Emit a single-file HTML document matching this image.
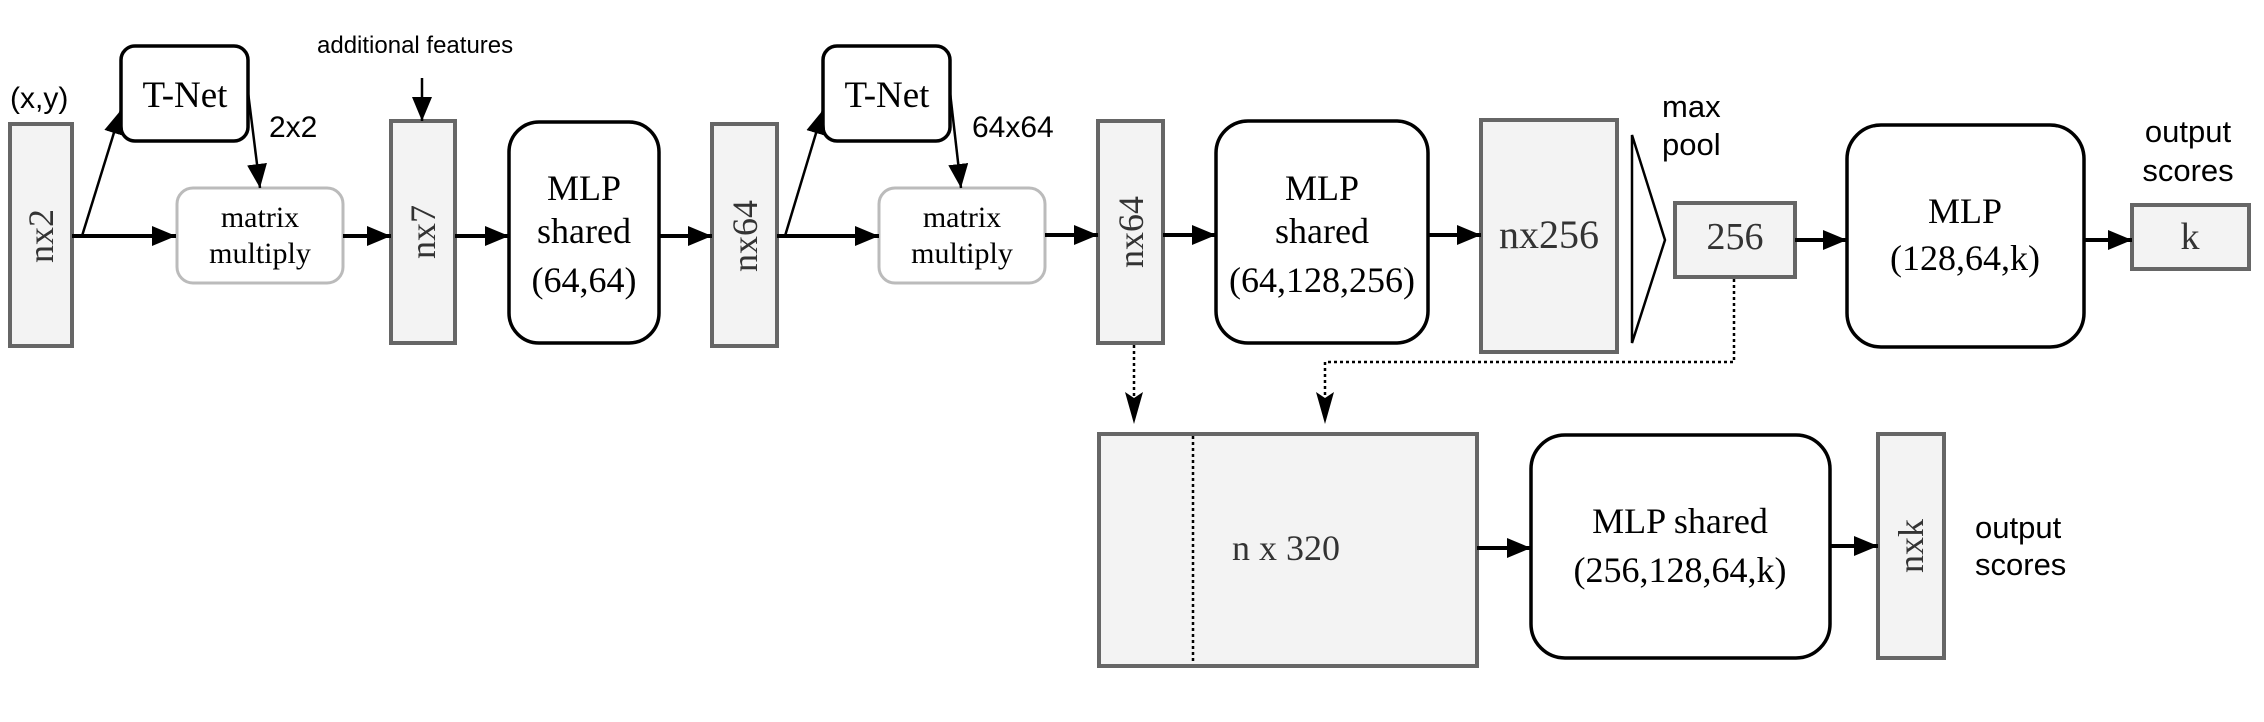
<!DOCTYPE html>
<html><head><meta charset="utf-8"><style>
html,body{margin:0;padding:0;background:#fff;}
svg{display:block;}
.s{font-family:"Liberation Serif",serif;fill:#000;}
.a{font-family:"Liberation Sans",sans-serif;fill:#000;}
.g{fill:#f3f3f3;stroke:#666;stroke-width:4;}
.r{fill:#fff;stroke:#000;stroke-width:3.5;}
.m{fill:#fff;stroke:#bbb;stroke-width:3;}
.l{stroke:#000;stroke-width:4;fill:none;}
.t{stroke:#000;stroke-width:2.5;fill:none;}
.d{stroke:#000;stroke-width:2.5;fill:none;stroke-dasharray:3,3;}
</style></head><body>
<svg width="2264" height="722" viewBox="0 0 2264 722" xmlns="http://www.w3.org/2000/svg">
<defs>
<marker id="ah2" markerWidth="24" markerHeight="20" refX="24" refY="10" orient="auto" markerUnits="userSpaceOnUse">
<path d="M0,0 L24,10 L0,20 z" fill="#000"/></marker>
</defs>

<!-- labels top -->
<text class="a" x="10" y="108" font-size="30">(x,y)</text>
<text class="a" x="317" y="53" font-size="24">additional features</text>
<text class="a" x="269" y="137" font-size="30">2x2</text>
<text class="a" x="972" y="137" font-size="30">64x64</text>
<text class="a" x="1662" y="117" font-size="31">max</text>
<text class="a" x="1662" y="155" font-size="31">pool</text>
<text class="a" x="2188" y="142" font-size="31" text-anchor="middle">output</text>
<text class="a" x="2188" y="181" font-size="31" text-anchor="middle">scores</text>
<text class="a" x="1975" y="538" font-size="31">output</text>
<text class="a" x="1975" y="575" font-size="31">scores</text>

<!-- boxes -->
<rect class="g" x="10" y="124" width="62" height="222"/>
<rect class="r" x="121" y="46" width="127" height="95" rx="14"/>
<rect class="m" x="177" y="188" width="166" height="95" rx="16"/>
<rect class="g" x="391" y="121" width="64" height="222"/>
<rect class="r" x="509" y="122" width="150" height="221" rx="30"/>
<rect class="g" x="712" y="124" width="65" height="222"/>
<rect class="r" x="823" y="46" width="127" height="95" rx="14"/>
<rect class="m" x="879" y="188" width="166" height="95" rx="16"/>
<rect class="g" x="1098" y="121" width="65" height="222"/>
<rect class="r" x="1216" y="121" width="212" height="222" rx="32"/>
<rect class="g" x="1481" y="120" width="136" height="232"/>
<polygon points="1632,135 1665,240 1632,343" fill="#fff" stroke="#000" stroke-width="2.5"/>
<rect class="g" x="1675" y="203" width="120" height="74"/>
<rect class="r" x="1847" y="125" width="237" height="222" rx="34"/>
<rect class="g" x="2132" y="205" width="117" height="64"/>
<rect class="g" x="1099" y="434" width="378" height="232"/>
<line class="d" x1="1193" y1="436" x2="1193" y2="664"/>
<rect class="r" x="1531" y="435" width="299" height="223" rx="34"/>
<rect class="g" x="1878" y="434" width="66" height="224"/>

<!-- text in boxes -->
<text class="s" x="185" y="107" font-size="37" text-anchor="middle">T-Net</text>
<text class="s" x="887" y="107" font-size="37" text-anchor="middle">T-Net</text>
<text class="s" x="260" y="227" font-size="30" text-anchor="middle">matrix</text>
<text class="s" x="260" y="263" font-size="30" text-anchor="middle">multiply</text>
<text class="s" x="962" y="227" font-size="30" text-anchor="middle">matrix</text>
<text class="s" x="962" y="263" font-size="30" text-anchor="middle">multiply</text>
<text class="s" x="584" y="200" font-size="36" text-anchor="middle">MLP</text>
<text class="s" x="584" y="243" font-size="36" text-anchor="middle">shared</text>
<text class="s" x="584" y="292" font-size="36" text-anchor="middle">(64,64)</text>
<text class="s" x="1322" y="200" font-size="36" text-anchor="middle">MLP</text>
<text class="s" x="1322" y="243" font-size="36" text-anchor="middle">shared</text>
<text class="s" x="1322" y="292" font-size="36" text-anchor="middle">(64,128,256)</text>
<text class="s" x="1965" y="223" font-size="36" text-anchor="middle">MLP</text>
<text class="s" x="1965" y="270" font-size="36" text-anchor="middle">(128,64,k)</text>
<text class="s" x="1680" y="533" font-size="36" text-anchor="middle">MLP shared</text>
<text class="s" x="1680" y="582" font-size="36" text-anchor="middle">(256,128,64,k)</text>
<text class="s" x="1549" y="248" font-size="40" text-anchor="middle" style="fill:#333">nx256</text>
<text class="s" x="1735" y="249" font-size="38" text-anchor="middle" style="fill:#333">256</text>
<text class="s" x="2190" y="249" font-size="38" text-anchor="middle" style="fill:#333">k</text>
<text class="s" x="1286" y="560" font-size="36" text-anchor="middle" style="fill:#333">n x 320</text>
<g class="s" font-size="36" text-anchor="middle" style="fill:#333">
<text transform="translate(53,236) rotate(-90)">nx2</text>
<text transform="translate(435,232) rotate(-90)">nx7</text>
<text transform="translate(757,236) rotate(-90)">nx64</text>
<text transform="translate(1143,232) rotate(-90)">nx64</text>
<text transform="translate(1923,546) rotate(-90)">nxk</text>
</g>

<!-- connectors -->
<line class="l" x1="72" y1="236" x2="176" y2="236" marker-end="url(#ah2)"/>
<line class="t" x1="82" y1="236" x2="121" y2="110" marker-end="url(#ah2)"/>
<line class="t" x1="248" y1="92" x2="260" y2="188" marker-end="url(#ah2)"/>
<line class="l" x1="343" y1="236" x2="391" y2="236" marker-end="url(#ah2)"/>
<line class="l" x1="455" y1="236" x2="509" y2="236" marker-end="url(#ah2)"/>
<line class="l" x1="659" y1="236" x2="712" y2="236" marker-end="url(#ah2)"/>
<line class="t" x1="422" y1="78" x2="422" y2="121" marker-end="url(#ah2)"/>
<line class="l" x1="777" y1="236" x2="879" y2="236" marker-end="url(#ah2)"/>
<line class="t" x1="785" y1="236" x2="823" y2="110" marker-end="url(#ah2)"/>
<line class="t" x1="950" y1="92" x2="961" y2="188" marker-end="url(#ah2)"/>
<line class="l" x1="1045" y1="235" x2="1098" y2="235" marker-end="url(#ah2)"/>
<line class="l" x1="1163" y1="235" x2="1216" y2="235" marker-end="url(#ah2)"/>
<line class="l" x1="1428" y1="235" x2="1481" y2="235" marker-end="url(#ah2)"/>
<line class="l" x1="1795" y1="240" x2="1847" y2="240" marker-end="url(#ah2)"/>
<line class="l" x1="2084" y1="240" x2="2132" y2="240" marker-end="url(#ah2)"/>
<line class="l" x1="1477" y1="548" x2="1531" y2="548" marker-end="url(#ah2)"/>
<line class="l" x1="1830" y1="546" x2="1878" y2="546" marker-end="url(#ah2)"/>
<line class="d" x1="1134" y1="345" x2="1134" y2="400"/>
<path d="M1134,398 l-9,-6 l9,32 l9,-32 z" fill="#000"/>
<polyline class="d" points="1734,279 1734,362 1325,362 1325,400"/>
<path d="M1325,398 l-9,-6 l9,32 l9,-32 z" fill="#000"/>
</svg>
</body></html>
